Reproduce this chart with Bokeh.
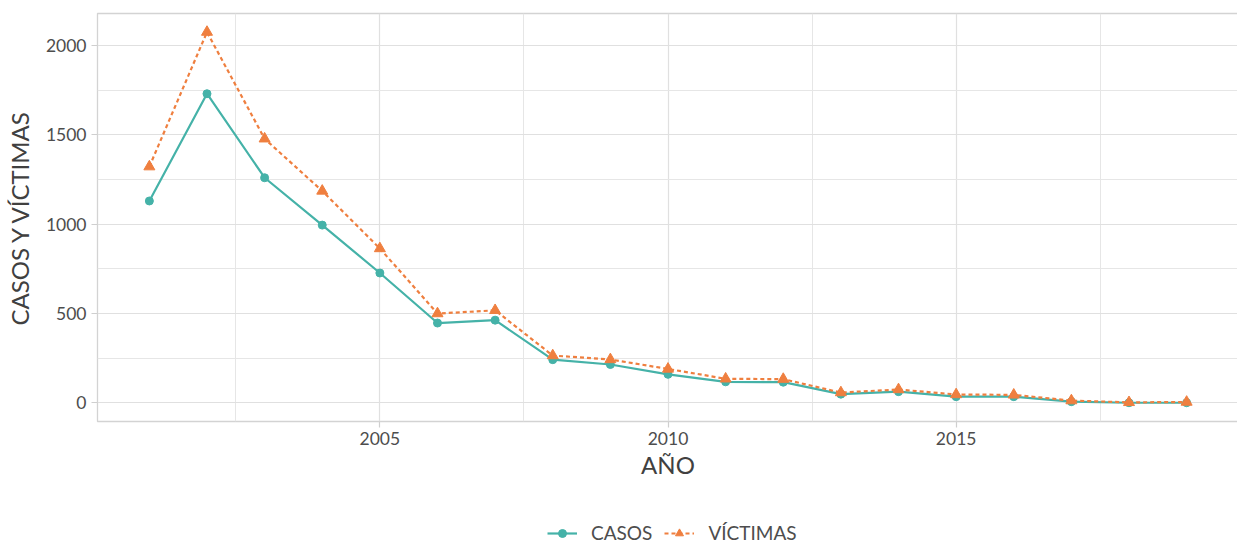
from bokeh.plotting import figure
from bokeh.layouts import column
from bokeh.models import Range1d, FixedTicker, Legend, LegendItem
from bokeh.embed import file_html
from bokeh.resources import INLINE

years = list(range(2001, 2020))
casos = [1130, 1730, 1260, 995, 727, 447, 463, 242, 215, 160, 118, 116, 49, 63, 35, 35, 7, 1, 1]
victimas = [1322, 2075, 1478, 1186, 864, 500, 518, 265, 243, 190, 135, 133, 58, 75, 47, 45, 13, 3, 5]
x_ticks = [2005, 2010, 2015]
y_ticks = [0, 500, 1000, 1500, 2000]
series_names = ["CASOS", "VÍCTIMAS"]

TEAL = "#45B2A8"
ORANGE = "#EF7F3F"
FONT = "Lato"
TXT = "#4D4D4D"

p = figure(frame_width=1141, frame_height=408, output_backend="svg", toolbar_location=None,
           x_range=Range1d(2000.1, 2019.9), y_range=Range1d(-104, 2179))
p.min_border_left = 90
p.min_border_right = 0
p.min_border_top = 13
p.min_border_bottom = 0
p.outline_line_color = "#D3D3D3"
p.outline_line_width = 1.3
p.background_fill_color = "white"
p.border_fill_color = "white"

p.xaxis.ticker = FixedTicker(ticks=x_ticks, minor_ticks=[2002.5, 2007.5, 2012.5, 2017.5])
p.yaxis.ticker = FixedTicker(ticks=y_ticks, minor_ticks=[250, 750, 1250, 1750])
for ax in (p.xaxis, p.yaxis):
    ax.axis_line_color = None
    ax.major_tick_line_color = "#CFCFCF"
    ax.major_tick_line_width = 1.2
    ax.major_tick_in = 0
    ax.major_tick_out = 6
    ax.minor_tick_line_color = None
    ax.major_label_text_font = FONT
    ax.major_label_text_font_size = "17.5px"
    ax.major_label_text_color = TXT
    ax.axis_label_text_font = FONT
    ax.axis_label_text_font_size = "24px"
    ax.axis_label_text_font_style = "normal"
    ax.axis_label_text_color = "#404040"
p.xaxis.axis_label = "AÑO"
p.yaxis.axis_label = "CASOS Y VÍCTIMAS"
p.xaxis.major_label_standoff = 4
p.xaxis.axis_label_standoff = 2
p.yaxis.major_label_standoff = 5
p.yaxis.axis_label_standoff = 9

for g in (p.xgrid, p.ygrid):
    g.grid_line_color = "#E0E0E0"
    g.grid_line_width = 1.2
    g.minor_grid_line_color = "#E6E6E6"
    g.minor_grid_line_width = 1.0

p.line(years, casos, line_color=TEAL, line_width=2.2)
p.scatter(years, casos, marker="circle", size=8, fill_color=TEAL, line_color=TEAL)
p.line(years, victimas, line_color=ORANGE, line_width=2.2, line_dash="4 3")
p.scatter(years, victimas, marker="triangle", size=11, fill_color=ORANGE, line_color=ORANGE)

# legend strip below the chart (proxy glyphs lie outside its visible range)
q = figure(frame_width=1141, frame_height=102, output_backend="svg", toolbar_location=None,
           x_axis_type=None, y_axis_type=None,
           x_range=Range1d(0, 1), y_range=Range1d(0, 1))
q.min_border_left = 97
q.min_border_right = 0
q.min_border_top = 0
q.min_border_bottom = 0
q.outline_line_color = None
q.grid.visible = False
proxy_x = [-10, -9]
proxy_y = [-10, -9]
ql1 = q.line(x=proxy_x, y=proxy_y, line_color=TEAL, line_width=2.2)
qs1 = q.scatter(x=proxy_x, y=proxy_y, marker="circle", size=8, fill_color=TEAL, line_color=TEAL)
ql2 = q.line(x=proxy_x, y=proxy_y, line_color=ORANGE, line_width=2.2, line_dash="4 3")
qs2 = q.scatter(x=proxy_x, y=proxy_y, marker="triangle", size=11, fill_color=ORANGE, line_color=ORANGE)

legend = Legend(items=[LegendItem(label=series_names[0], renderers=[ql1, qs1]),
                       LegendItem(label=series_names[1], renderers=[ql2, qs2])],
                orientation="horizontal", location=(450, 39))
legend.label_text_font = FONT
legend.label_text_font_size = "19px"
legend.label_text_color = TXT
legend.glyph_width = 30
legend.label_standoff = 14
legend.spacing = 12
legend.border_line_color = None
legend.background_fill_alpha = 0
legend.margin = 0
legend.padding = 4
q.add_layout(legend, "center")

open("out.html", "w").write(file_html(column(p, q), INLINE))
